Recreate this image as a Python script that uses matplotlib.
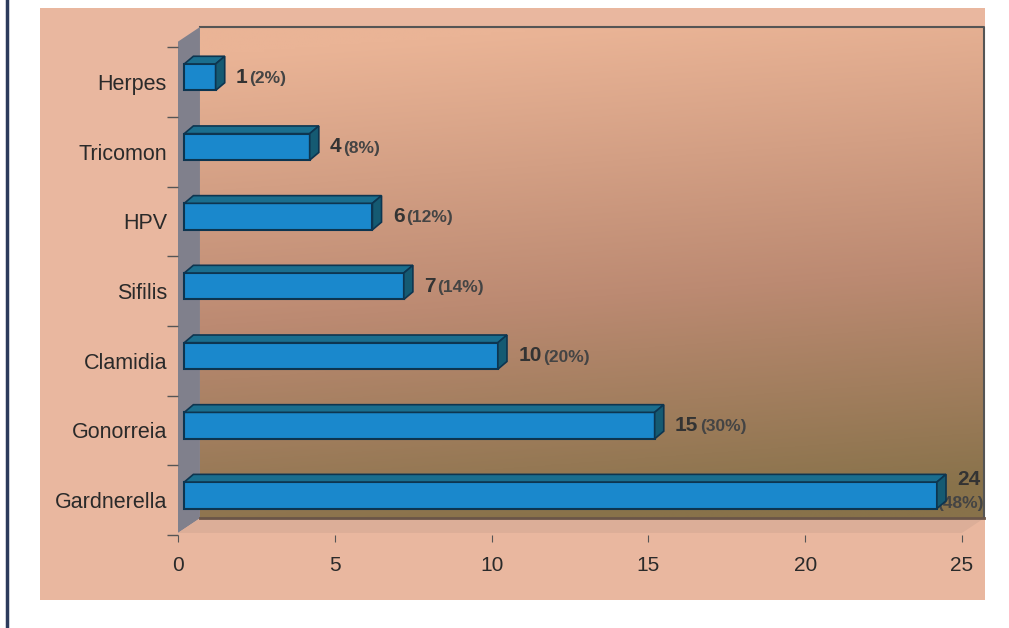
import numpy as np
import matplotlib.pyplot as plt
from matplotlib.patches import Polygon, Rectangle

# datos
categorias = ['Gardnerella', 'Gonorreia', 'Clamidia', 'Sifilis', 'HPV', 'Tricomon', 'Herpes']
casos = [24, 15, 10, 7, 6, 4, 1]
porcentajes = ['48%', '30%', '20%', '14%', '12%', '8%', '2%']
xticks = [0, 5, 10, 15, 20, 25]

# profundidad 3D (unidades de datos)
dxf, dyf = 0.7, 0.21      # pared
ox, oy = 0.2, 0.07        # cara frontal de la barra
bx, by = 0.29, 0.11       # profundidad de la barra
h = 0.38                  # alto de la barra
ymin, ymax = -0.47, 6.79

plt.rcParams['font.family'] = ['Liberation Sans', 'DejaVu Sans']

fig = plt.figure(figsize=(10.09, 6.28), dpi=100)
fig.patch.set_facecolor('white')

# panel rosa de fondo y borde izquierdo
fig.patches.append(Rectangle((40/1009, 1-600/628), 945/1009, 592/628,
                             transform=fig.transFigure, facecolor='#e9b79f',
                             edgecolor='none', zorder=-5))
fig.lines.append(plt.Line2D([7/1009, 7/1009], [0, 1], transform=fig.transFigure,
                            color='#2c3b5c', lw=2.5, zorder=-5))

ax = fig.add_axes([178/1009, 1-535/628, 784/1009, 508/628])
ax.set_xlim(0, 25)
ax.set_ylim(ymin, ymax)
ax.patch.set_alpha(0)
for s in ax.spines.values():
    s.set_visible(False)

# pared del fondo con degradado
ny, nx = 200, 300
yy, xx = np.mgrid[0:1:ny*1j, 0:1:nx*1j]   # yy: 0 arriba, 1 abajo
top = np.array([234, 180, 150]) / 255
mid = np.array([188, 138, 114]) / 255
bot = np.array([136, 114, 74]) / 255
t = np.clip(yy + 0.12 * (xx - 0.5), 0, 1)
img = np.zeros((ny, nx, 3))
for k in range(3):
    img[..., k] = np.where(t < 0.55,
                           top[k] + (mid[k] - top[k]) * (t / 0.55),
                           mid[k] + (bot[k] - mid[k]) * ((t - 0.55) / 0.45))
ax.imshow(img, extent=(dxf, 25 + dxf, ymin + dyf, ymax), aspect='auto',
          origin='upper', zorder=0, clip_on=False)
ax.plot([dxf, 25 + dxf, 25 + dxf], [ymax, ymax, ymin + dyf], color='#555555',
        lw=1.5, clip_on=False, zorder=1)

# pared izquierda y piso
ax.add_patch(Polygon([(0, ymin), (dxf, ymin + dyf), (dxf, ymax), (0, ymax - dyf)],
                     closed=True, facecolor='#80808c', edgecolor='none',
                     clip_on=False, zorder=1))
ax.add_patch(Polygon([(0, ymin), (25, ymin), (25 + dxf, ymin + dyf), (dxf, ymin + dyf)],
                     closed=True, facecolor='#dcae98', edgecolor='none',
                     clip_on=False, zorder=1))
ax.plot([dxf, 25 + dxf], [ymin + dyf, ymin + dyf], color='#6a5548', lw=2,
        clip_on=False, zorder=1)

# barras 3D
y = np.arange(len(categorias))
ax.barh(y + oy, casos, height=h, left=ox, color='#1a88cc', edgecolor='#0d3550',
        lw=1.5, zorder=3)
for yi, v, p in zip(y, casos, porcentajes):
    y0, y1 = yi + oy - h/2, yi + oy + h/2
    x1 = ox + v
    ax.add_patch(Polygon([(ox, y1), (x1, y1), (x1 + bx, y1 + by), (ox + bx, y1 + by)],
                         closed=True, facecolor='#1a6e8e', edgecolor='#0d3550',
                         lw=1.2, zorder=3))
    ax.add_patch(Polygon([(x1, y0), (x1 + bx, y0 + by), (x1 + bx, y1 + by), (x1, y1)],
                         closed=True, facecolor='#155a72', edgecolor='#0d3550',
                         lw=1.2, zorder=3))
    if v == max(casos):
        ax.text(v + 0.84, yi + oy + 0.22, str(v), fontsize=15, fontweight='bold',
                color='#333333', va='center', ha='left', zorder=4, clip_on=False)
        ax.text(v + 0.2, yi + oy - 0.12, '(' + p + ')', fontsize=12.5, fontweight='bold',
                color='#444444', va='center', ha='left', zorder=2, clip_on=False)
    else:
        t1 = ax.text(v + 0.85, yi + oy, str(v), fontsize=15, fontweight='bold',
                     color='#333333', va='center', ha='left', zorder=4)
        ax.annotate('(' + p + ')', xycoords=t1, xy=(1, 0.5), xytext=(1, -1),
                    textcoords='offset points', fontsize=12.5, fontweight='bold',
                    color='#444444', va='center', ha='left', zorder=4)

# ejes
ax.set_yticks(y)
ax.set_yticklabels(categorias, fontsize=15.5, color='#2a2a2a')
ax.tick_params(axis='y', length=0, pad=8)
ax.set_yticks(np.arange(-0.5, len(categorias), 1), minor=True)
ax.tick_params(axis='y', which='minor', length=8, color='#555555', width=1)
ax.set_xticks(xticks)
ax.set_xticklabels([str(v) for v in xticks], fontsize=15, color='#2a2a2a')
ax.tick_params(axis='x', length=5, color='#555555', pad=10)

plt.savefig('out.png', dpi=100)
